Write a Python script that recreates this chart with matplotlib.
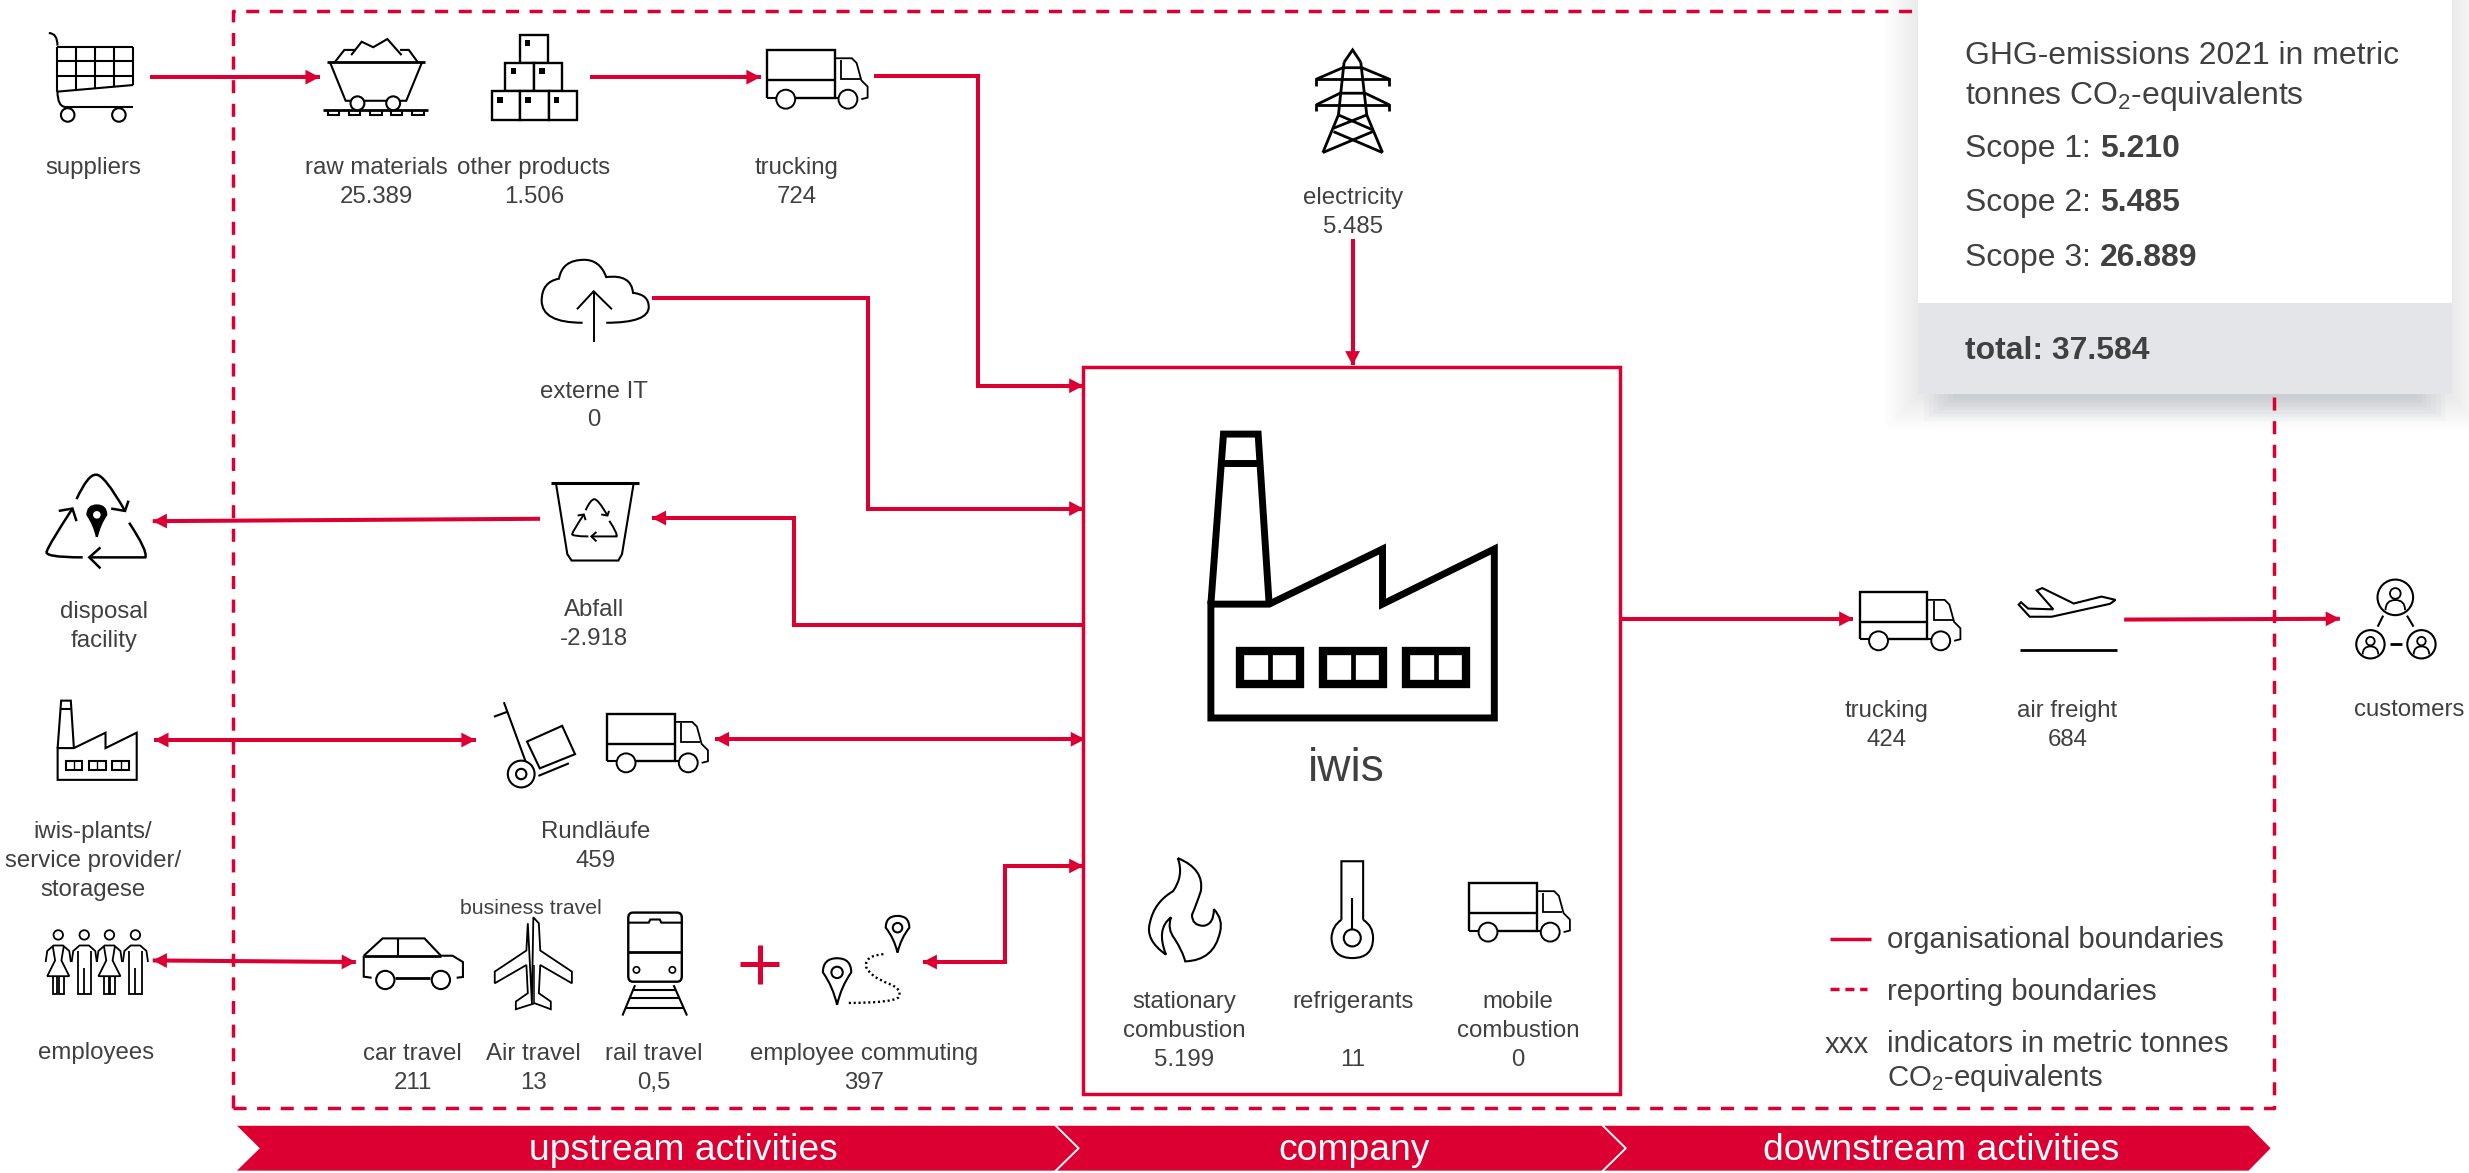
import matplotlib
matplotlib.use("Agg")
import matplotlib.pyplot as plt
from matplotlib.patches import Circle, Polygon, Rectangle, PathPatch
from matplotlib.path import Path

plt.rcParams["font.family"] = ["Liberation Sans", "DejaVu Sans"]
plt.rcParams["mathtext.fontset"] = "custom"
plt.rcParams["mathtext.rm"] = "Liberation Sans"
plt.rcParams["mathtext.default"] = "regular"
plt.rcParams["lines.scale_dashes"] = False

RED = "#DC0032"
INK = "#404040"
GREY = "#E3E5E9"
ICON_LW = 1.5

# nodes: name (lines split on \n), value, centre x, baseline of the first line
node_names = ["suppliers", "raw materials", "other products", "trucking", "electricity",
              "externe IT", "disposal\nfacility", "Abfall", "iwis-plants/\nservice provider/\nstoragese",
              "Rundläufe", "employees", "car travel", "Air travel", "rail travel",
              "employee commuting", "trucking", "air freight", "customers",
              "stationary\ncombustion", "refrigerants\n", "mobile\ncombustion"]
node_values = [None, "25.389", "1.506", "724", "5.485", "0", None, "-2.918", None, "459", None,
               "211", "13", "0,5", "397", "424", "684", None, "5.199", "11", "0"]
node_x = [59, 239, 339, 506, 859, 377, 66, 377, 59, 378, 61, 262, 339, 415, 549, 1198, 1313, 1530,
          752, 859, 964]
node_y = [110.5, 110.5, 110.5, 110.5, 129.5, 252.5, 392.5, 391.5, 532.5, 532.5, 672.5, 673.5, 673.5,
          673.5, 673.5, 455.5, 455.5, 454.5, 640.5, 640.5, 640.5]

# card
card_title = ["GHG-emissions 2021 in metric", "tonnes CO$_2$-equivalents"]
scope_names = ["Scope 1:", "Scope 2:", "Scope 3:"]
scope_values = ["5.210", "5.485", "26.889"]
total_text = "total: 37.584"

# legend
legend_texts = ["organisational boundaries", "reporting boundaries",
                "indicators in metric tonnes", "CO$_2$-equivalents"]

# band
band_labels = ["upstream activities", "company", "downstream activities"]
band_x = [434, 860, 1233]

# arrows: route, head at start, head at end
arrow_routes = [
    [(95, 49), (203, 49)],
    [(375, 49), (483, 49)],
    [(555, 48), (621, 48), (621, 245), (688, 245)],
    [(859, 152), (859, 232)],
    [(414, 189), (551, 189), (551, 323), (688, 323)],
    [(688, 397), (504, 397), (504, 329), (414, 329)],
    [(343, 329.5), (97, 331)],
    [(98, 470), (302, 470)],
    [(454, 469.5), (689, 469.5)],
    [(97, 610), (226, 611)],
    [(688, 550), (638, 550), (638, 611), (586, 611)],
    [(1029, 393), (1177, 393)],
    [(1349, 393.5), (1486, 393)],
]
arrow_start_head = [False, False, False, False, False, False, False, True, True, True, True, False, False]
arrow_end_head = [True, True, True, True, True, True, True, True, True, True, True, True, True]

fig = plt.figure(figsize=(2469 / 100, 1173 / 100), dpi=100)
ax = fig.add_axes([0, 0, 1, 1])
ax.set_xlim(0, 1568)
ax.set_ylim(745, 0)
ax.axis("off")


def px(size):
    """Tamaño de fuente dado en píxeles de la imagen."""
    return size * 0.72


def tr(pts, ox=0, oy=0, s=1):
    return [(ox + x * s, oy + y * s) for x, y in pts]


def stroke(pts, lw=ICON_LW, color="black", closed=False, z=5, fill="none", **kw):
    ax.add_patch(Polygon(pts, closed=closed, fill=fill != "none", facecolor=fill, edgecolor=color,
                         lw=lw, zorder=z, joinstyle="miter", capstyle="butt", **kw))


def curve(pts, lw=ICON_LW, color="black", z=5, fill="none", ls="-"):
    """pts = inicio, luego pares (control, fin) de beziers cuadráticas."""
    codes = [Path.MOVETO] + [Path.CURVE3] * (len(pts) - 1)
    ax.add_patch(PathPatch(Path(pts, codes), facecolor=fill, edgecolor=color, lw=lw, zorder=z,
                           linestyle=ls, capstyle="butt"))


def circle(cx, cy, r, lw=ICON_LW, fill="white", color="black", z=6):
    ax.add_patch(Circle((cx, cy), r, facecolor=fill, edgecolor=color, lw=lw, zorder=z))


def pin(cx, top, tip, w, filled=False):
    h = tip - top
    pts = [(cx, tip), (cx - w * 0.15, tip - h * 0.4), (cx - w / 2, top + w / 2), (cx - w / 2, top), (cx, top),
           (cx + w / 2, top), (cx + w / 2, top + w / 2), (cx + w * 0.15, tip - h * 0.4), (cx, tip)]
    curve(pts, fill="black" if filled else "white")
    circle(cx, top + w / 2, w * 0.2, lw=0 if filled else ICON_LW)


def truck(ox, oy, s=1):
    stroke(tr([(0, 30), (6, 30)], ox, oy, s))
    stroke(tr([(0, 30), (0, 0), (43, 0), (43, 30), (18, 30)], ox, oy, s), lw=1.7)
    stroke(tr([(0, 19), (43, 19)], ox, oy, s), lw=1.7)
    stroke(tr([(43, 5), (54, 5), (57, 8), (60, 19), (64, 23), (64, 30), (60, 31)], ox, oy, s), lw=1.3)
    stroke(tr([(47, 6), (47, 18), (59, 18)], ox, oy, s), lw=1.3)
    stroke(tr([(43, 30), (46, 30)], ox, oy, s))
    circle(ox + 12 * s, oy + 31 * s, 6 * s, lw=1.4)
    circle(ox + 51.5 * s, oy + 31 * s, 6 * s, lw=1.4)


def factory(ox, oy, s, lw, lw_win, lw_div):
    # coordenadas locales tomadas del icono grande
    stroke(tr([(0, 108), (8, 0), (30, 0), (37, 108)], ox, oy, s), lw=lw)
    stroke(tr([(6.5, 18.3), (31, 18.3)], ox, oy, s), lw=lw)
    stroke(tr([(0, 108), (0, 180.3), (180, 180.3), (180, 73), (109, 108), (109, 73), (37, 108), (0, 108)],
              ox, oy, s), lw=lw, closed=True)
    for wx in [18.4, 71.4, 124.1]:
        stroke(tr([(wx, 137.7), (wx + 38.2, 137.7), (wx + 38.2, 158.9), (wx, 158.9)], ox, oy, s),
               lw=lw_win, closed=True)
        stroke(tr([(wx + 19.1, 137.7), (wx + 19.1, 158.9)], ox, oy, s), lw=lw_div)


def recycle(cx, cy, s, lw):
    t = lambda pts: tr(pts, cx, cy, s)
    curve(t([(-12.4, -11), (-5, -27), (0, -26.5), (5, -27), (18.4, -3.5)]), lw=lw)
    stroke(t([(9.6, -5), (18.4, -3.5), (20.6, -10)]), lw=lw)
    curve(t([(21, 4), (33, 22), (31.3, 26), (28, 26), (-4.3, 26)]), lw=lw)
    stroke(t([(2.8, 19.7), (-4.3, 26), (2.8, 33)]), lw=lw)
    curve(t([(-8.5, 26), (-34, 26), (-31.2, 22), (-30, 18), (-15, -5)]), lw=lw)
    stroke(t([(-23.7, -3.5), (-15, -5), (-12.4, 3)]), lw=lw)


def person(cx, cy, r):
    circle(cx, cy, r)
    circle(cx, cy - 0.22 * r, 0.3 * r, lw=1.3)
    curve([(cx - 0.55 * r, cy + 0.72 * r), (cx - 0.55 * r, cy + 0.15 * r), (cx, cy + 0.15 * r),
           (cx + 0.55 * r, cy + 0.15 * r), (cx + 0.55 * r, cy + 0.72 * r)], lw=1.3, z=7)


def label(x, y, text, size=24, ha="center", color=INK, weight="normal", z=8):
    return ax.text(x, y, text, fontsize=px(size), ha=ha, va="baseline", color=color, fontweight=weight, zorder=z)


# ------------------------------------------------------- reporting boundaries
dash = (0, (9.4, 7.6))
ax.plot([148, 148, 1218], [704, 6.8, 6.8], color=RED, lw=2.5, ls=dash, zorder=2)
ax.plot([148, 1444, 1444], [704, 704, 250], color=RED, lw=2.5, ls=dash, zorder=2)

# ------------------------------------------------------- card
for d in range(1, 22):
    ax.add_patch(Rectangle((1218 - d, 0), 339 + 2 * d, 252 + d, facecolor="#9098A5", edgecolor="none",
                           alpha=0.007, zorder=1))
for i in range(7):
    ax.add_patch(Rectangle((1222 + 3 * i, 250), 331 - 6 * i, 4 + 2.2 * (6 - i), facecolor="#9098A5",
                           edgecolor="none", alpha=0.05, zorder=1.5))
ax.add_patch(Rectangle((1218, 0), 339, 192.3, facecolor="white", edgecolor="none", zorder=3))
ax.add_patch(Rectangle((1218, 192.3), 339, 57.7, facecolor=GREY, edgecolor="none", zorder=3))
label(1248, 40.6, card_title[0], size=31.9, ha="left")
label(1248, 66, card_title[1], size=31.9, ha="left")
renderer = fig.canvas.get_renderer()
for name, value, y in zip(scope_names, scope_values, [99.5, 134, 168.7]):
    t = label(1248, y, name, size=31.9, ha="left")
    w = t.get_window_extent(renderer).width / (2469 / 1568)
    label(1248 + w + 5.6, y, value, size=31.9, ha="left", weight="bold")
label(1248, 228, total_text, size=31.9, ha="left", weight="bold")

# ------------------------------------------------------- company box
ax.add_patch(Rectangle((688, 233), 341, 462, facecolor="white", edgecolor=RED, lw=2.5, zorder=3))

# ------------------------------------------------------- arrows


def head(tip, prev):
    dx, dy = tip[0] - prev[0], tip[1] - prev[1]
    n = (dx ** 2 + dy ** 2) ** 0.5
    ux, uy = dx / n, dy / n
    base = (tip[0] - 9 * ux, tip[1] - 9 * uy)
    ax.add_patch(Polygon([tip, (base[0] - 4.7 * uy, base[1] + 4.7 * ux), (base[0] + 4.7 * uy, base[1] - 4.7 * ux)],
                         closed=True, facecolor=RED, edgecolor="none", zorder=5))


for route, at_start, at_end in zip(arrow_routes, arrow_start_head, arrow_end_head):
    xs, ys = zip(*route)
    ax.plot(xs, ys, color=RED, lw=2.9, solid_joinstyle="miter", solid_capstyle="butt", zorder=4)
    if at_end:
        head(route[-1], route[-2])
    if at_start:
        head(route[0], route[1])

# plus sign
ax.plot([470, 495], [612, 612], color=RED, lw=3.6, solid_capstyle="butt", zorder=5)
ax.plot([482.5, 482.5], [600, 625], color=RED, lw=3.6, solid_capstyle="butt", zorder=5)

# ------------------------------------------------------- icons
# cart
for x in [36.5, 48.5, 60.5, 72.5, 84.6]:
    stroke([(x, 29.6), (x, 54 + (84.6 - x) * 0.087)])
for y in [29.6, 38.7, 48]:
    stroke([(36.5, y), (84.6, y)])
stroke([(36.5, 58.2), (84.6, 54)])
curve([(31, 21), (36.5, 21), (36.5, 29)])
curve([(36.5, 58), (36.5, 68), (42, 68)])
stroke([(42, 68), (84.6, 68)])
circle(43, 73, 4.3)
circle(75.5, 73, 4.3)

# mine cart
stroke([(207.8, 39.6), (269.8, 39.6)], lw=2)
stroke([(209.6, 39.6), (219.5, 64), (258, 64), (268, 39.6)])
stroke([(212.5, 39.6), (218.7, 31.7), (226, 31.7)])
stroke([(223, 35), (229.7, 26.5), (237, 30), (246, 24.8), (255, 35)])
stroke([(254, 31.7), (259.6, 31.7), (265.4, 39.6)])
circle(227, 65.6, 4.4)
circle(249.7, 65.6, 4.4)
stroke([(205, 70), (271.6, 70)], lw=2)
for a, b in [(208.5, 215), (221.6, 228.6), (235, 242.4), (248.6, 255), (261.8, 269)]:
    stroke([(a, 70), (a, 73), (b, 73), (b, 70)])

# boxes
for bx, by in [(330, 22), (321, 40), (339.2, 40), (312.4, 58), (330.4, 58), (348.4, 58)]:
    ax.add_patch(Rectangle((bx, by), 18, 18, facecolor="white", edgecolor="black", lw=1.7, zorder=5))
    ax.add_patch(Rectangle((bx + 3.3, by + 3.3), 3.6, 4, facecolor="black", edgecolor="none", zorder=6))

truck(487, 32)
truck(385.6, 453.5)
truck(1181, 376)
truck(933, 561)

# cloud
curve([(370, 205), (344, 205), (344, 191), (344, 179), (355, 177), (357, 165), (371, 165), (381, 165), (385, 176),
       (401, 174), (402, 186), (412, 187), (412, 195), (412, 205), (385, 205)])
stroke([(377, 217), (377, 185)], lw=1.4)
stroke([(366.4, 196.4), (377, 185), (388.6, 196.4)], lw=1.4)

# pylon
stroke([(853.6, 39.5), (859, 31.7), (864.2, 39.5)], lw=2)
stroke([(853.6, 39.5), (850, 73), (840.1, 96.9)], lw=2)
stroke([(864.2, 39.5), (868, 73), (878, 96.9)], lw=2)
stroke([(835.9, 54.6), (835.9, 50.3), (882.4, 50.3), (882.4, 54.6)], lw=2)
stroke([(835.9, 50.3), (852.8, 43), (864.9, 43), (882.4, 50.3)], lw=2)
stroke([(835.9, 70.4), (835.9, 66.6), (882.4, 66.6), (882.4, 70.4)], lw=2)
stroke([(835.9, 66.6), (851, 59.2), (867, 59.2), (882.4, 66.6)], lw=2)
stroke([(850, 73), (871.8, 82.5)], lw=2)
stroke([(868, 73), (846.9, 81.4)], lw=2)
stroke([(846.9, 83.6), (878, 96.9)], lw=2)
stroke([(871.8, 83.6), (840.1, 96.9)], lw=2)

# disposal and bin
recycle(61, 328, 1, 1.8)
pin(61.5, 321, 341, 12, filled=True)
stroke([(350, 306.5), (405.7, 306.5)], lw=2.2)
stroke([(353, 306.5), (360.3, 352), (363, 356), (392.7, 356), (395, 352), (402.5, 306.5)])
recycle(377.5, 329, 0.45, 1.4)

# small factory and big factory
factory(36.6, 445, 0.279, 1.5, 1.5, 1)
factory(769, 275.7, 1, 5, 6, 3.4)

# hand truck
stroke([(313.7, 455.2), (322.4, 452)])
stroke([(320, 446), (335.4, 488)])
stroke([(334.7, 471), (357, 461), (365.2, 479), (342.8, 488)], closed=True)
stroke([(341.9, 492.8), (361.3, 484.8)])
circle(331, 491.6, 8.5)
circle(331, 491.6, 3.3)

# employees
for cx, female in zip([37, 53.5, 69.5, 86], [True, False, True, False]):
    circle(cx, 593.8, 3, lw=1.3)
    stroke([(cx - 8, 611), (cx - 7, 604), (cx - 3, 600.5), (cx + 3, 600.5), (cx + 7, 604), (cx + 8, 611)], lw=1.3)
    if female:
        stroke([(cx - 3.5, 601), (cx - 2, 610), (cx - 7, 620), (cx + 7, 620), (cx + 2, 610), (cx + 3.5, 601)], lw=1.3)
        stroke([(cx - 3.5, 620), (cx - 3.5, 631), (cx - 0.5, 631), (cx - 0.5, 620)], lw=1.3)
        stroke([(cx + 3.5, 620), (cx + 3.5, 631), (cx + 0.5, 631), (cx + 0.5, 620)], lw=1.3)
    else:
        stroke([(cx - 4, 604), (cx - 4, 631), (cx + 4, 631), (cx + 4, 604)], lw=1.3)
        stroke([(cx, 615), (cx, 631)], lw=1.3)

# car
stroke([(231, 607), (243, 596), (269.6, 596), (280, 607), (287.4, 607), (294, 611), (294, 620.5), (290, 621)])
stroke([(231, 607), (231, 620.3), (236, 621)])
stroke([(231, 607), (280, 607)], lw=2)
stroke([(253, 596), (253, 607)])
stroke([(251, 621), (273, 621)], lw=2)
circle(244.7, 622.4, 5.8)
circle(280, 622.4, 5.8)

# plane, top view
half = [(338.7, 582.6), (342.2, 586.4), (343.1, 603.7), (363.2, 617.1), (363.2, 624.5), (343.1, 612.9), (342.2, 630.8),
        (349.8, 636.1), (349.8, 641), (339.6, 637.2)]
outline = half + [(2 * 338.7 - x, y) for x, y in reversed(half[1:-1])] + [(337.8, 637.2)]
stroke(outline, closed=True, lw=1.3)
stroke([(339, 613), (339, 637)], lw=1.1)

# train
ax.add_patch(PathPatch(Path.make_compound_path(
    Path([(402, 579.6), (430, 579.6), (433, 579.6), (433, 583), (433, 620), (433, 623.5), (430, 623.5), (402, 623.5),
          (399, 623.5), (399, 620), (399, 583), (399, 579.6), (402, 579.6)],
         [Path.MOVETO, Path.LINETO, Path.CURVE3, Path.CURVE3, Path.LINETO, Path.CURVE3, Path.CURVE3, Path.LINETO,
          Path.CURVE3, Path.CURVE3, Path.LINETO, Path.CURVE3, Path.CURVE3])),
    facecolor="none", edgecolor="black", lw=1.7, zorder=5))
stroke([(399, 586), (412, 586), (413, 584), (419, 584), (420, 586), (433, 586)])
stroke([(399, 604.4), (433, 604.4)], lw=2)
circle(404.2, 616, 2, lw=1.2)
circle(427, 616, 2, lw=1.2)
stroke([(403.3, 625.7), (395.3, 645)])
stroke([(427.8, 625.7), (436.3, 645)])
for y, a, b in [(628.7, 402, 429), (634, 399.5, 431.5), (640.3, 397, 434.5)]:
    stroke([(a, y), (b, y)])

# commuting
curve([(561, 606), (549, 607), (550, 614), (552, 620), (565, 625), (573, 628), (571, 633), (569, 637), (538, 637)],
      lw=1.7, ls=(0, (1.5, 2)))
pin(570, 581.7, 605, 15)
pin(531.6, 608.6, 638.2, 18)

# flame
curve([(748, 545), (765, 552), (762.6, 566), (760, 574), (757, 581), (757, 588), (764.4, 588), (771, 587), (770.9, 577.4),
       (777, 584), (774.8, 592), (771, 610), (752.7, 610.6), (751, 604), (746, 596.3), (741, 590), (743.7, 582.6),
       (734, 590), (740.5, 606.3), (727, 597), (730.3, 586), (733, 573), (745, 566), (752, 556), (748, 545)])

# thermometer
curve([(851.9, 584.2), (851.9, 554), (851.9, 547), (858.8, 547), (865.7, 547), (865.7, 554), (865.7, 584.2)])
curve([(851.9, 584.2), (846, 588), (845.6, 595.7), (846, 608.5), (858.8, 608.5), (872, 608.5), (872, 595.7),
       (872, 588), (865.7, 584.2)])
stroke([(858.8, 570.5), (858.8, 590)])
circle(858.8, 595.7, 5.4)

# plane taking off
stroke([(1282.6, 412.7), (1344.5, 412.7)], lw=2)
stroke([(1343.5, 381), (1334.6, 378.9), (1317, 383.3), (1297, 373.5), (1293.5, 375), (1304, 387), (1288, 386.5), (1283.5, 382.5),
        (1282, 384), (1289, 391.7), (1303, 391.7), (1340, 383.5)], closed=True)

# customers
person(1521.2, 379.4, 11.3)
person(1505.4, 409.2, 9)
person(1537.8, 409.2, 9)
stroke([(1513.5, 391), (1510, 398)])
stroke([(1528.6, 391), (1532.8, 398)])
stroke([(1517.7, 409.2), (1525.4, 409.2)], lw=2)

# ------------------------------------------------------- texts
for name, value, x, y in zip(node_names, node_values, node_x, node_y):
    lines = name.split("\n")
    for i, line in enumerate(lines):
        label(x, y + i * 18.2, line)
    if value is not None:
        label(x, y + len(lines) * 18.2, value)
label(337, 580.5, "business travel", size=21.3)
label(855, 496, "iwis", size=46)

# ------------------------------------------------------- legend
ax.plot([1162, 1188], [596.5, 596.5], color=RED, lw=2.5, solid_capstyle="butt")
ax.plot([1162, 1186], [628, 628], color=RED, lw=2.5, ls=(0, (6.5, 4.2)))
for text, y in zip(legend_texts, [602.4, 635, 668, 689.8]):
    label(1198.6, y, text, size=29.4, ha="left")
label(1173, 669, "xxx", size=29.4)

# ------------------------------------------------------- band
ax.add_patch(Polygon([(150.5, 715), (1428, 715), (1442, 729.3), (1428, 743.5), (150.5, 743.5), (165, 729.3)],
                     closed=True, facecolor="#DC0032", edgecolor="none", zorder=3))
for x0 in [670.5, 1018]:
    ax.plot([x0, x0 + 14.5, x0], [715, 729.3, 743.5], color="white", lw=1.4, zorder=4)
for text, x in zip(band_labels, band_x):
    label(x, 736.7, text, size=37.2, color="white")

fig.savefig("out.png", dpi=100)
